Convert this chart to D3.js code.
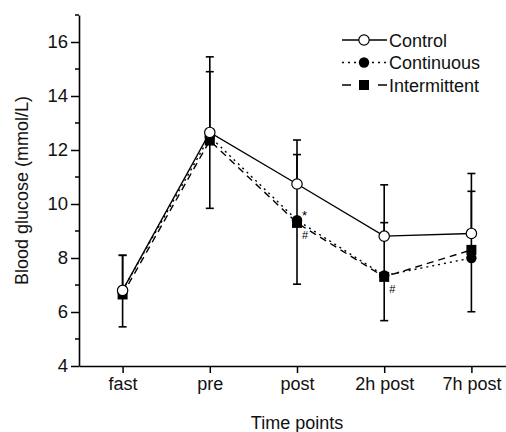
<!DOCTYPE html>
<html>
<head>
<meta charset="utf-8">
<script src="https://cdn.jsdelivr.net/npm/d3@7"></script>
<style>
  body { margin: 0; background: #fff; }
  svg { display: block; font-family: "Liberation Sans", Arial, sans-serif; }
</style>
</head>
<body>
<svg id="chart"></svg>
<script>
// Data
const timePoints = ['fast', 'pre', 'post', '2h post', '7h post'];
const controlMean = [6.8, 12.65, 10.74, 8.81, 8.91];
const controlSD = [1.3, 2.8, 1.63, 1.9, 2.22];          // drawn upward
const continuousMean = [6.8, 12.5, 9.4, 7.35, 8.0];
const continuousSD = [1.3, 2.4, 2.43, 1.96, 2.47];      // drawn upward
const intermittentMean = [6.65, 12.35, 9.3, 7.3, 8.3];
const intermittentSD = [1.2, 2.51, 2.27, 1.62, 2.29];   // drawn downward
const yTicks = [4, 6, 8, 10, 12, 14, 16];
const yMinorTicks = [5, 7, 9, 11, 13, 15, 17];
const marks = [
  { i: 2, series: 'continuous', text: '*' },
  { i: 2, series: 'intermittent', text: '#' },
  { i: 3, series: 'intermittent', text: '#' }
];

const width = 506, height = 432;
const x0 = 79, x1 = 515, yTop = 15, yBottom = 366;

const svg = d3.select('#chart')
  .attr('width', width)
  .attr('height', height);

const xScale = d3.scalePoint()
  .domain(timePoints)
  .range([x0, x1])
  .padding(0.5);

const yScale = d3.scaleLinear()
  .domain([4, 17])
  .range([yBottom, yTop]);

const series = [
  { key: 'control', name: 'Control', mean: controlMean, sd: controlSD, dir: 1, dash: null, legendDash: null, marker: 'open' },
  { key: 'continuous', name: 'Continuous', mean: continuousMean, sd: continuousSD, dir: 1, dash: '2,4', legendDash: '2,4', marker: 'circle' },
  { key: 'intermittent', name: 'Intermittent', mean: intermittentMean, sd: intermittentSD, dir: -1, dash: '7,5', legendDash: '9,27,9', marker: 'square' }
];

// Axes
const yAxis = svg.append('g')
  .attr('transform', `translate(${x0},0)`)
  .call(d3.axisLeft(yScale).tickValues(yTicks).tickSize(8).tickSizeOuter(0).tickPadding(3));
yAxis.selectAll('text').style('font-size', '18.5px').attr('fill', '#111');

svg.append('g')
  .attr('transform', `translate(${x0},0)`)
  .selectAll('line')
  .data(yMinorTicks)
  .join('line')
  .attr('x1', -4).attr('x2', 0)
  .attr('y1', d => yScale(d)).attr('y2', d => yScale(d))
  .attr('stroke', '#000').attr('stroke-width', 1.5);

const xAxis = svg.append('g')
  .attr('transform', `translate(0,${yBottom})`)
  .call(d3.axisBottom(xScale).tickSize(7).tickSizeOuter(0).tickPadding(4));
xAxis.selectAll('text').style('font-size', '18px').attr('fill', '#111');

[yAxis, xAxis].forEach(a => {
  a.select('.domain').attr('stroke', '#000').attr('stroke-width', 1.6);
  a.selectAll('.tick line').attr('stroke', '#000').attr('stroke-width', 1.5);
});

// Axis titles
svg.append('text')
  .attr('transform', `translate(28,${(yTop + yBottom) / 2}) rotate(-90)`)
  .attr('text-anchor', 'middle')
  .style('font-size', '18px')
  .attr('fill', '#111')
  .text('Blood glucose (mmol/L)');

svg.append('text')
  .attr('x', (x0 + x1) / 2)
  .attr('y', 429)
  .attr('text-anchor', 'middle')
  .style('font-size', '18px')
  .attr('fill', '#111')
  .text('Time points');

// Lines
const line = d3.line()
  .x((d, i) => xScale(timePoints[i]))
  .y(d => yScale(d));

series.forEach(s => {
  svg.append('path')
    .datum(s.mean)
    .attr('fill', 'none')
    .attr('stroke', '#000')
    .attr('stroke-width', 1.4)
    .attr('stroke-dasharray', s.dash)
    .attr('d', line);
});

// Error bars
series.forEach(s => {
  const g = svg.append('g').attr('class', 'err-' + s.key);
  s.mean.forEach((m, i) => {
    const cx = xScale(timePoints[i]);
    const end = yScale(m + s.dir * s.sd[i]);
    g.append('line')
      .attr('x1', cx).attr('x2', cx)
      .attr('y1', yScale(m)).attr('y2', end)
      .attr('stroke', '#000').attr('stroke-width', 1.6);
    g.append('line')
      .attr('x1', cx - 4).attr('x2', cx + 4)
      .attr('y1', end).attr('y2', end)
      .attr('stroke', '#000').attr('stroke-width', 1.6);
  });
});

// Markers
function drawMarker(g, type, cx, cy) {
  if (type === 'open') {
    g.append('circle').attr('cx', cx).attr('cy', cy).attr('r', 5.2)
      .attr('fill', '#fff').attr('stroke', '#000').attr('stroke-width', 1.2);
  } else if (type === 'circle') {
    g.append('circle').attr('cx', cx).attr('cy', cy).attr('r', 5.2).attr('fill', '#000');
  } else {
    g.append('rect').attr('x', cx - 5).attr('y', cy - 5).attr('width', 10).attr('height', 10).attr('fill', '#000');
  }
}

[series[2], series[1], series[0]].forEach(s => {
  const g = svg.append('g');
  s.mean.forEach((m, i) => drawMarker(g, s.marker, xScale(timePoints[i]), yScale(m)));
});

// Significance marks
const byKey = Object.fromEntries(series.map(s => [s.key, s]));
svg.selectAll('.sig')
  .data(marks)
  .join('text')
  .attr('class', 'sig')
  .attr('x', d => xScale(timePoints[d.i]) + 5)
  .attr('y', d => yScale(byKey[d.series].mean[d.i]) + (d.text === '*' ? 0 : 16))
  .style('font-size', d => d.text === '*' ? '13px' : '11px')
  .attr('fill', '#000')
  .text(d => d.text);

// Legend
const legend = svg.append('g').attr('transform', 'translate(342,40)');
series.forEach((s, k) => {
  const row = legend.append('g').attr('transform', `translate(0,${k * 22.5})`);
  row.append('line')
    .attr('x1', 0).attr('x2', 45)
    .attr('y1', 0).attr('y2', 0)
    .attr('stroke', '#000').attr('stroke-width', 1.4)
    .attr('stroke-dasharray', s.legendDash);
  drawMarker(row, s.marker, 22, 0);
  row.append('text')
    .attr('x', 47)
    .attr('y', 6.5)
    .style('font-size', '18px')
    .attr('fill', '#111')
    .text(s.name);
});
</script>
</body>
</html>
